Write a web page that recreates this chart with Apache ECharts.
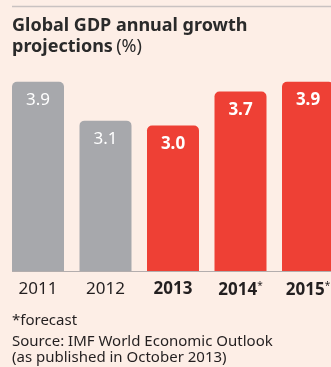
<!DOCTYPE html>
<html><head><meta charset="utf-8">
<script src="https://cdn.jsdelivr.net/npm/echarts@6/dist/echarts.min.js"></script>
<style>html,body{margin:0;padding:0;background:#fdeee6;}#c{width:331px;height:367px;}</style>
</head><body><div id="c"></div>
<script>
const categories = ['2011', '2012', '2013', '2014', '2015'];
const forecastFlags = [false, false, false, true, true];
const values = [3.9, 3.1, 3.0, 3.7, 3.9];
const projected = [false, false, true, true, true];

const GRAY = '#a7a8ac', RED = '#ee4035', TXT = '#231f20';
const FONT = '"Noto Sans", "Open Sans", sans-serif';

const chart = echarts.init(document.getElementById('c'), null, {renderer: 'canvas'});
const data = values.map((v, i) => ({
  value: v,
  itemStyle: {color: projected[i] ? RED : GRAY, borderRadius: [5, 5, 0, 0]},
  label: {fontWeight: projected[i] ? 'bold' : 'normal'}
}));
chart.setOption({
  backgroundColor: '#fdeee6',
  animation: false,
  grid: {left: 4.25, width: 337.5, top: 77, bottom: 96, containLabel: false, outerBoundsMode: 'none'},
  xAxis: {
    type: 'category', data: categories,
    axisLine: {show: false}, axisTick: {show: false},
    axisLabel: {
      interval: 0, margin: 10, color: TXT, fontFamily: FONT, fontSize: 17,
      formatter: (v, i) => {
        const b = projected[i] ? 'b' : 'n';
        return '{' + b + '|' + v + '}' + (forecastFlags[i] ? '{s|*}' : '');
      },
      rich: {
        n: {fontSize: 17, fontFamily: FONT, color: TXT},
        b: {fontSize: 17, fontFamily: FONT, color: TXT, fontWeight: 'bold'},
        s: {fontSize: 10, fontFamily: FONT, color: TXT, verticalAlign: 'top', padding: [0, 0, 8, 0]}
      }
    }
  },
  yAxis: {type: 'value', min: 0, max: 4, show: false, splitLine: {show: false}},
  series: [{
    type: 'bar', data: data, barWidth: 52,
    label: {show: true, position: 'insideTop', distance: 10, color: '#fff', fontSize: 17, fontFamily: FONT,
      formatter: p => p.value.toFixed(1)}
  }],
  graphic: [
    {type: 'line', shape: {x1: 12, y1: 6.5, x2: 331, y2: 6.5}, style: {stroke: '#c9c2c1', lineWidth: 1.5}},
    {type: 'line', shape: {x1: 12, y1: 271.5, x2: 331, y2: 271.5}, style: {stroke: '#b3adad', lineWidth: 1.2}, z: 10},
    {type: 'text', left: 12, top: 17, style: {text: 'Global GDP annual growth', font: 'bold 18px ' + FONT, fill: '#2a2a2a'}},
    {type: 'text', left: 12, top: 38, style: {
      text: '{b|projections} {n|(%)}',
      rich: {b: {font: 'bold 18px ' + FONT, fill: '#2a2a2a'}, n: {font: '18px ' + FONT, fill: '#2a2a2a'}}
    }},
    {type: 'text', left: 12, top: 313, style: {text: '*forecast', font: '15px ' + FONT, fill: TXT}},
    {type: 'text', left: 12, top: 334, style: {text: 'Source: IMF World Economic Outlook\n(as published in October 2013)', font: '15px ' + FONT, fill: TXT, lineHeight: 16}}
  ]
});
</script></body></html>
